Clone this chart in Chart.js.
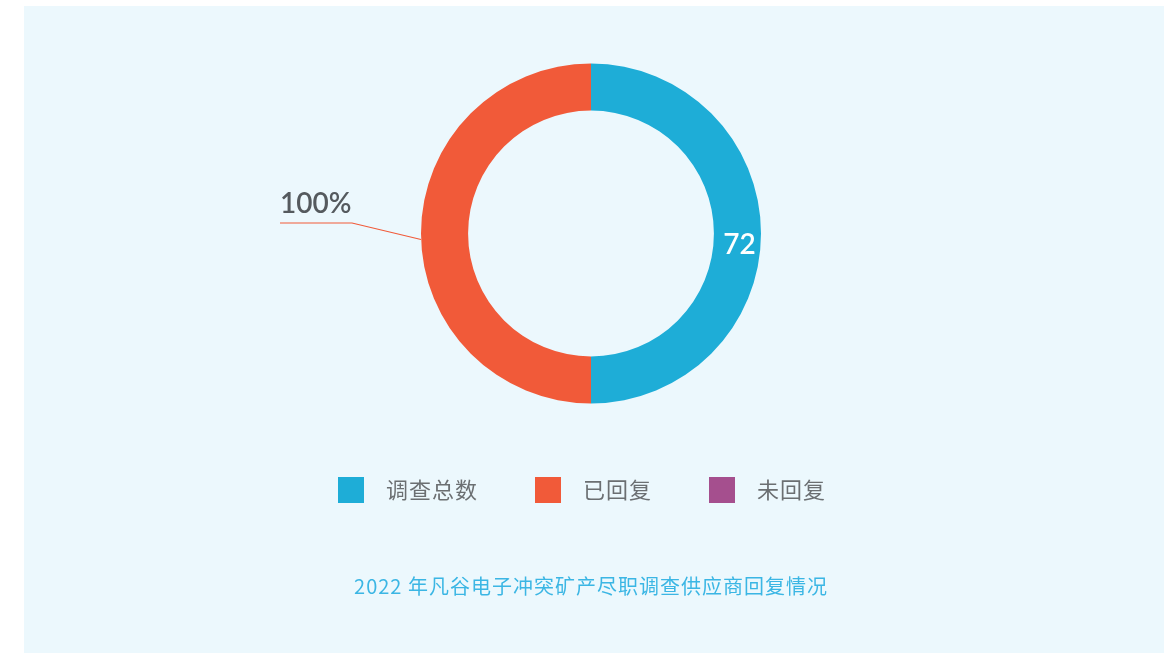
<!DOCTYPE html>
<html>
<head>
<meta charset="utf-8">
<title>2022 年凡谷电子冲突矿产尽职调查供应商回复情况</title>
<script src="https://cdn.jsdelivr.net/npm/chart.js@4/dist/chart.umd.min.js"></script>
<style>
	html, body { margin: 0; padding: 0; background: #fff; }
	canvas { display: block; }
</style>
</head>
<body>
<canvas id="chart-reply" width="1164" height="653"></canvas>
<script>
// Chart data
const labels = ['调查总数', '已回复', '未回复'];
const values = [72, 72, 0];
const colors = ['#1eadd7', '#f15a39', '#a54f8e'];
const title = '2022 年凡谷电子冲突矿产尽职调查供应商回复情况';

(function () {
	const cjk = '"Noto Sans CJK SC", "Noto Sans", sans-serif';
	const num = 'Lato, "Noto Sans", sans-serif';

	// Light blue panel behind everything
	const panel = {
		id: 'panel',
		beforeDraw: function (chart) {
			let ctx = chart.ctx;
			ctx.save();
			ctx.fillStyle = '#fff';
			ctx.fillRect(0, 0, chart.width, chart.height);
			ctx.fillStyle = '#ecf8fd';
			ctx.fillRect(24, 6, chart.width - 24, chart.height - 6);
			ctx.restore();
		}
	};

	// Value label, percent label with leader line, legend and caption
	const decorations = {
		id: 'decorations',
		afterDraw: function (chart) {
			let ctx = chart.ctx;
			let arcs = chart.getDatasetMeta(0).data;
			let blue = arcs[0], red = arcs[1];
			let cx = blue.x, cy = blue.y;
			ctx.save();

			// value inside the first segment
			let pos = blue.tooltipPosition();
			ctx.font = '600 28px ' + num;
			ctx.fillStyle = '#fff';
			ctx.textAlign = 'center';
			ctx.textBaseline = 'alphabetic';
			ctx.fillText(String(values[0]), pos.x + 2, cy + 20);

			// percent of replies, outside on the left
			let pct = Math.round(values[1] / values[0] * 100) + '%';
			let mid = (red.startAngle + red.endAngle) / 2;
			let ax = cx + Math.cos(mid) * red.outerRadius;
			let ay = cy + Math.sin(mid) * red.outerRadius + 6;
			ctx.strokeStyle = colors[1];
			ctx.lineWidth = 1.2;
			ctx.beginPath();
			ctx.moveTo(ax, ay);
			ctx.lineTo(ax - 69, cy - 10.5);
			ctx.lineTo(ax - 141, cy - 10.5);
			ctx.stroke();
			ctx.fillStyle = '#555a5e';
			ctx.textAlign = 'left';
			ctx.fillText(pct, ax - 141, cy - 20.5);

			// legend
			ctx.font = '22px ' + cjk;
			ctx.letterSpacing = '1px';
			let box = 26, gap = 22, spacing = 57;
			let widths = labels.map(l => ctx.measureText(l).width);
			let total = widths.reduce((a, w) => a + box + gap + w, 0) + spacing * (labels.length - 1);
			let x = cx - 9 - total / 2;
			let ly = 490;
			ctx.textBaseline = 'middle';
			labels.forEach(function (l, i) {
				ctx.fillStyle = colors[i];
				ctx.fillRect(x, ly - box / 2, box, box);
				ctx.fillStyle = '#6b6f72';
				ctx.fillText(l, x + box + gap, ly);
				x += box + gap + widths[i] + spacing;
			});

			// caption
			ctx.font = '20px ' + cjk;
			ctx.letterSpacing = '1px';
			ctx.fillStyle = '#3bb6e4';
			ctx.textAlign = 'center';
			ctx.fillText(title, cx, 586);
			ctx.restore();
		}
	};

	new Chart(document.getElementById('chart-reply'), {
		type: 'doughnut',
		data: {
			labels: labels,
			datasets: [{
				data: values,
				backgroundColor: colors,
				borderWidth: 0,
				hoverOffset: 0
			}]
		},
		options: {
			responsive: false,
			animation: false,
			cutout: '72.3%',
			layout: {
				padding: { top: 63.5, bottom: 249.5, left: 300, right: 282 }
			},
			plugins: {
				legend: { display: false },
				tooltip: { enabled: false },
				title: { display: false }
			}
		},
		plugins: [panel, decorations]
	});
})();
</script>
</body>
</html>
